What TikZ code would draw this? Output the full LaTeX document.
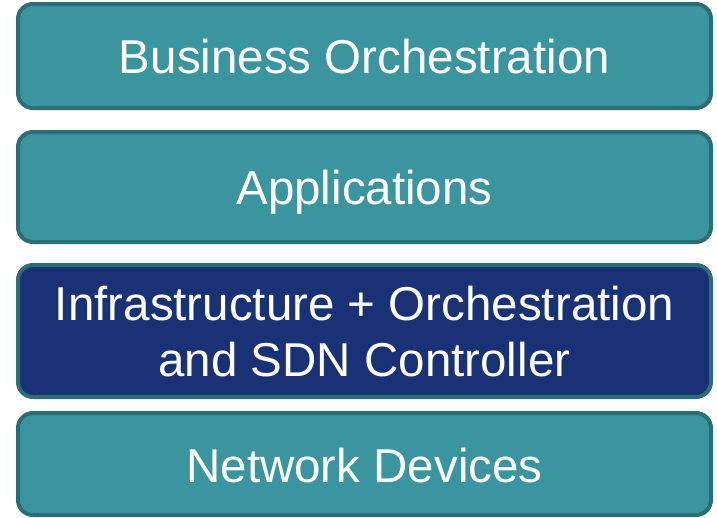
\documentclass[tikz,border=0pt]{standalone}
\usepackage{fontspec}
\setmainfont{Liberation Sans}
\definecolor{tealfill}{HTML}{3A959E}
\definecolor{tealedge}{HTML}{2B6E73}
\definecolor{navyfill}{HTML}{183275}
\begin{document}
\begin{tikzpicture}[x=1pt,y=-1pt,
  layer/.style={draw=tealedge, line width=4pt, rounded corners=15pt, fill=tealfill},
  label/.style={text=white, font=\fontsize{47.5}{56}\selectfont, align=center, inner sep=0pt}]
\useasboundingbox (0,0) rectangle (717,517);
\draw[layer] (18,4) rectangle (711,108);
\draw[layer] (18,132) rectangle (711,242);
\draw[layer, fill=navyfill] (18,265) rectangle (711,397);
\draw[layer] (18,413) rectangle (711,515);
\node[label, anchor=base] (t1) at (364.5,73) {Business Orchestration};
\node[label, anchor=base] (t2) at (364.5,204) {Applications};
\node[label, anchor=base] (t3a) at (364.5,320) {Infrastructure + Orchestration};
\node[label, anchor=base] (t3b) at (364.5,376) {and SDN Controller};
\node[label, anchor=base] (t4) at (364.5,482) {Network Devices};
\end{tikzpicture}
\end{document}
